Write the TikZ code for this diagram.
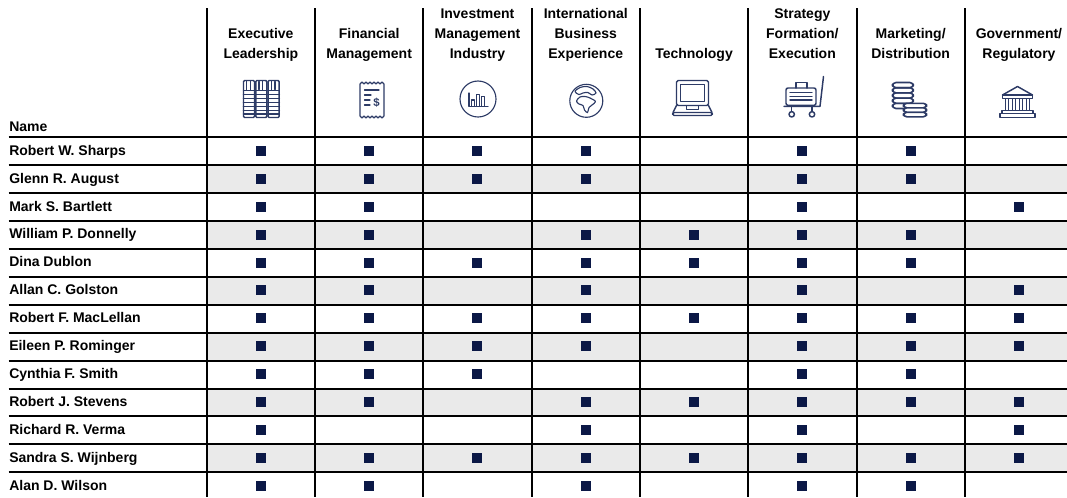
\documentclass[tikz,border=0pt]{standalone}
\usepackage{fontspec}
\setmainfont{Liberation Sans}
\definecolor{navy}{HTML}{0B1846}
\definecolor{iconblue}{HTML}{2D3B66}
\definecolor{rowgray}{HTML}{EAEAEA}
\begin{document}
\begin{tikzpicture}[x=0.75pt,y=-0.75pt,
  gridline/.style={line width=1.5pt, black},
  hdr/.style={font=\fontsize{10.5}{14.7}\selectfont\bfseries, anchor=base, inner sep=0pt},
  nm/.style={font=\fontsize{10.5}{14.7}\selectfont\bfseries, anchor=base west, inner sep=0pt},
  sq/.style={fill=navy, minimum size=7.5pt, inner sep=0pt, draw=none},
  ic/.style={draw=iconblue, line width=1.1pt, line join=round, line cap=round},
  icthin/.style={draw=iconblue, line width=0.85pt, line join=round, line cap=round}]

\useasboundingbox (0,0) rectangle (1067,497);

% gray rows
\foreach \k in {1,3,5,7,9,11}
  \fill[rowgray] (206.7,{137.4+27.9*\k}) rectangle (1067,{137.4+27.9*(\k+1)});

% grid
\foreach \k in {0,...,12}
  \draw[gridline] (8.5,{137.4+27.9*\k}) -- (1067,{137.4+27.9*\k});
\foreach \j in {0,...,7}
  \draw[gridline] ({206.7+108.3*\j},8) -- ({206.7+108.3*\j},497);

% headers
\node[nm] (hname) at (9,131) {Name};
\node[hdr] (h1) at (260.85,58) {\begin{tabular}[b]{@{}c@{}}Executive\\Leadership\end{tabular}};
\node[hdr] (h2) at (369.15,58) {\begin{tabular}[b]{@{}c@{}}Financial\\Management\end{tabular}};
\node[hdr] (h3) at (477.45,58) {\begin{tabular}[b]{@{}c@{}}Investment\\Management\\Industry\end{tabular}};
\node[hdr] (h4) at (585.75,58) {\begin{tabular}[b]{@{}c@{}}International\\Business\\Experience\end{tabular}};
\node[hdr] (h5) at (694.05,58) {\begin{tabular}[b]{@{}c@{}}Technology\end{tabular}};
\node[hdr] (h6) at (802.35,58) {\begin{tabular}[b]{@{}c@{}}Strategy\\Formation/\\Execution\end{tabular}};
\node[hdr] (h7) at (910.65,58) {\begin{tabular}[b]{@{}c@{}}Marketing/\\Distribution\end{tabular}};
\node[hdr] (h8) at (1018.95,58) {\begin{tabular}[b]{@{}c@{}}Government/\\Regulatory\end{tabular}};

% rows
\foreach \pname/\bits [count=\r] in {
  Robert W. Sharps/{1,1,1,1,0,1,1,0},
  Glenn R. August/{1,1,1,1,0,1,1,0},
  Mark S. Bartlett/{1,1,0,0,0,1,0,1},
  William P. Donnelly/{1,1,0,1,1,1,1,0},
  Dina Dublon/{1,1,1,1,1,1,1,0},
  Allan C. Golston/{1,1,0,1,0,1,0,1},
  Robert F. MacLellan/{1,1,1,1,1,1,1,1},
  Eileen P. Rominger/{1,1,1,1,0,1,1,1},
  Cynthia F. Smith/{1,1,1,0,0,1,1,0},
  Robert J. Stevens/{1,1,0,1,1,1,1,1},
  Richard R. Verma/{1,0,0,1,0,1,0,1},
  Sandra S. Wijnberg/{1,1,1,1,1,1,1,1},
  Alan D. Wilson/{1,1,0,1,0,1,1,0}} {
  \node[nm] (n\r) at (9,{137.4+27.9*(\r-1)+17.8}) {\pname};
  \foreach \b [count=\j from 0] in \bits {
    \ifnum\b=1
      \node[sq] (s\r-\j) at ({260.85+108.3*\j},{137.4+27.9*(\r-1)+13.5}) {};
    \fi
  }
}

% icon 1: books
\foreach \i in {0,1,2} {
  \pgfmathsetmacro{\xo}{243.5+12.3*\i}
  \draw[ic, rounded corners=0.8pt] (\xo,80.5) rectangle ({\xo+11},117.5);
  \draw[icthin, line width=1pt] ({\xo+3.3},81.5) -- ({\xo+3.3},89.5);
  \draw[icthin, line width=1pt] ({\xo+6.8},81.5) -- ({\xo+6.8},89.5);
  \draw[ic] (\xo,90.5) -- ({\xo+11},90.5);
  \foreach \yy in {94.5,98.5,102.5,106.5,110.5,114}
    \draw[ic, line width=1.4pt] (\xo,\yy) -- ({\xo+11},\yy);
}

% icon 2: receipt
\draw[icthin] (360,84)--(362,82)--(364,84)--(366,82)--(368,84)--(370,82)--(372,84)--(374,82)--(376,84)--(378,82)--(380,84)--(382,82)--(384,84)
  --(384,116)--(382,118)--(380,116)--(378,118)--(376,116)--(374,118)--(372,116)--(370,118)--(368,116)--(366,118)--(364,116)--(362,118)--(360,116)--cycle;
\draw[icthin] (364.5,90) -- (379,90);
\draw[icthin] (364.5,95) -- (371,95);
\draw[icthin] (364.5,100) -- (370,100);
\draw[icthin] (364.5,105) -- (370,105);
\node[text=iconblue, font=\fontsize{8.5}{8.5}\selectfont\bfseries, inner sep=0pt] (dollar) at (376.5,102.5) {\$};

% icon 3: chart in circle
\draw[icthin] (478,99) circle (18);
\draw[icthin] (469,93) -- (469,106.5) -- (488,106.5);
\draw[icthin] (471.5,100) rectangle (474.5,106.5);
\draw[icthin] (476.5,94.5) rectangle (479.5,106.5);
\draw[icthin] (481.5,96.5) rectangle (484.5,106.5);

% icon 4: globe
\draw[icthin] (586.3,100.8) circle (16.5);
\draw[icthin] plot[smooth cycle, tension=0.55] coordinates {(575,91.5) (580,87.5) (587,86.5) (593,89) (596,93) (592,95) (588,92.5) (583,93) (579,94.5)};
\draw[icthin] plot[smooth cycle, tension=0.55] coordinates {(576.5,101) (580,97) (585,96.5) (590,98) (595.5,101.5) (592,105) (589,107.5) (587.5,112.5) (584.5,110) (583,105.5) (579,104)};

% icon 5: laptop
\draw[ic, rounded corners=1.2pt] (676.5,80.5) rectangle (708.5,105.5);
\draw[icthin] (680.8,84.5) rectangle (704.2,101.5);
\draw[ic] (676.5,105.5) -- (673,112.5);
\draw[ic] (708.5,105.5) -- (712,112.5);
\draw[ic, rounded corners=1.2pt] (672.5,112.5) rectangle (712.5,115.5);
\draw[icthin] (686.5,105.5) rectangle (698.5,109.3);

% icon 6: luggage cart
\draw[ic, rounded corners=1.5pt] (786,88) rectangle (816,105.3);
\draw[ic] (796,88) -- (796,82.5) -- (807,82.5) -- (807,88);
\foreach \yy in {92.7,96.3,100}
  \draw[ic] (790,\yy) -- (812,\yy);
\draw[ic] (784,106.3) -- (820,106.3) -- (823.5,76.5);
\draw[ic] (791.7,106.3) -- (791.7,111.6);
\draw[ic] (812,106.3) -- (812,111.6);
\draw[ic] (791.7,114.3) circle (2.7);
\draw[ic] (812,114.3) circle (2.7);

% icon 7: coins
\foreach \yy in {82.5,87.7,92.9,98.1,103.3}
  \draw[ic, line width=1.2pt, rounded corners=2.6pt] (892.5,\yy) rectangle (913.3,{\yy+5.2});
\foreach \yy in {103.3,107.8,112.3}
  \draw[ic, line width=1.2pt, fill=white, rounded corners=2.4pt] (903.5,\yy) rectangle (926.5,{\yy+4.5});

% icon 8: building
\draw[ic] (1002.5,95) -- (1017.5,86.5) -- (1032.5,95) -- cycle;
\draw[ic] (1002.5,95) rectangle (1032.5,98.5);
\foreach \cx in {1007,1014,1021,1028}
  \draw[icthin] ({\cx-1.6},98.5) rectangle ({\cx+1.6},110.3);
\draw[ic] (1002,110.3) rectangle (1033,113.6);
\draw[ic] (1000,113.6) rectangle (1035,117.3);
\end{tikzpicture}
\end{document}
